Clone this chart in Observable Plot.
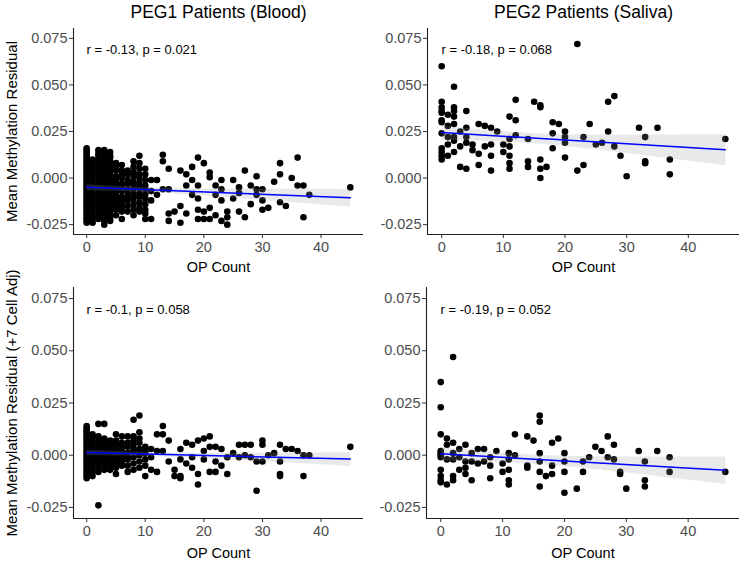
<!DOCTYPE html>
<html><head><meta charset="utf-8">
<script src="https://cdn.jsdelivr.net/npm/d3@7"></script>
<script src="https://cdn.jsdelivr.net/npm/@observablehq/plot@0.6"></script>
<style>
body{margin:0;background:#fff;}
#chart{position:relative;width:744px;height:561px;overflow:hidden;background:#fff;}
.panel{position:absolute;}
</style></head><body><div id="chart"></div>
<script>
// ---------- data (OP count, [residual values]) ----------
const peg1Blood = [
  [0, [0.016, 0.015, 0.014, 0.013, 0.012, 0.011, 0.010, 0.009, 0.008, 0.007, 0.006, 0.005, 0.004, 0.003, 0.002, 0.001, 0.000, -0.001, -0.002, -0.003, -0.004, -0.005, -0.006, -0.007, -0.008, -0.009, -0.010, -0.011, -0.012, -0.013, -0.014, -0.015, -0.016, -0.017, -0.018, -0.019, -0.020, -0.021, -0.022, -0.023, -0.024]],
  [1, [0.010, 0.008, 0.007, 0.005, 0.003, 0.002, 0.000, -0.002, -0.003, -0.005, -0.006, -0.008, -0.010, -0.011, -0.013, -0.015, -0.016, -0.018, -0.020, -0.021, -0.023, -0.024]],
  [2, [0.015, 0.013, 0.012, 0.010, 0.009, 0.007, 0.006, 0.004, 0.002, 0.001, -0.001, -0.003, -0.004, -0.006, -0.008, -0.009, -0.011, -0.013, -0.014, -0.016, -0.017, -0.019, -0.021, -0.022]],
  [3, [0.015, 0.014, 0.012, 0.010, 0.009, 0.007, 0.005, 0.004, 0.002, 0.000, -0.001, -0.003, -0.005, -0.006, -0.008, -0.010, -0.011, -0.013, -0.015, -0.016, -0.018, -0.020, -0.021, -0.023, -0.025]],
  [4, [0.014, 0.012, 0.011, 0.009, 0.007, 0.005, 0.004, 0.002, 0.000, -0.001, -0.003, -0.005, -0.006, -0.008, -0.010, -0.012, -0.013, -0.015, -0.017, -0.018, -0.020, -0.022, -0.023]],
  [5, [0.008, 0.006, 0.004, 0.001, -0.001, -0.003, -0.005, -0.007, -0.009, -0.011, -0.013, -0.015, -0.017, -0.020]],
  [6, [0.007, 0.004, 0.002, 0.000, -0.003, -0.005, -0.007, -0.010, -0.012, -0.014, -0.016, -0.018, -0.022]],
  [7, [0.004, 0.002, -0.001, -0.003, -0.006, -0.008, -0.010, -0.012, -0.015, -0.018]],
  [8, [0.009, 0.006, 0.003, 0.001, -0.002, -0.004, -0.006, -0.009, -0.011, -0.014, -0.017, -0.020]],
  [9, [0.012, 0.008, 0.005, 0.002, 0.000, -0.003, -0.005, -0.008, -0.010, -0.013, -0.016, -0.018]],
  [10, [0.005, 0.002, -0.001, -0.004, -0.006, -0.009, -0.011, -0.014, -0.017, -0.019, -0.022]],
  [11, [-0.001, -0.007, -0.012, -0.022]],
  [12, [-0.001, -0.009]],
  [13, [0.0125, 0.009, -0.006]],
  [14, [0.005, -0.006, -0.019, -0.023]],
  [15, [-0.018]],
  [16, [0.004, -0.015, -0.024]],
  [17, [0.002, -0.004, -0.019]],
  [18, [0.006, -0.001, -0.009]],
  [19, [0.011, -0.004, -0.011, -0.017, -0.022]],
  [20, [0.008, -0.018, -0.022]],
  [21, [0.003, 0.0005, -0.016, -0.022]],
  [22, [-0.004, -0.009, -0.020]],
  [23, [-0.001, -0.006, -0.012, -0.023]],
  [24, [-0.018, -0.021, -0.025]],
  [25, [-0.001, -0.011]],
  [26, [-0.005, -0.008, -0.018]],
  [27, [0.004, -0.021]],
  [28, [-0.004, -0.014]],
  [29, [0.001, -0.006, -0.009]],
  [30, [-0.006, -0.012, -0.017]],
  [31, [-0.016]],
  [32, [-0.002]],
  [33, [0.008, 0.002, -0.013]],
  [34, [-0.015]],
  [35, [0.000]],
  [36, [0.011, -0.004]],
  [37, [-0.004, -0.021]],
  [38, [-0.009]],
  [45, [-0.005]]
];
const peg2Saliva = [
  [0, [0.060, 0.041, 0.038, 0.036, 0.035, 0.031, 0.030, 0.024, 0.016, 0.014, 0.012, 0.010]],
  [1, [0.034, 0.028, 0.022, 0.018, 0.012]],
  [2, [0.049, 0.038, 0.036, 0.033, 0.029, 0.022, 0.020, 0.014]],
  [3, [0.025, 0.017, 0.006]],
  [4, [0.036, 0.027, 0.022, 0.019, 0.005]],
  [5, [0.018, 0.015]],
  [6, [0.029, 0.013, 0.007]],
  [7, [0.028, 0.017]],
  [8, [0.027, 0.018, 0.012, 0.004]],
  [9, [0.025]],
  [10, [0.018, 0.014]],
  [11, [0.033, 0.021, 0.017, 0.012, 0.008, 0.005]],
  [12, [0.042, 0.031, 0.023]],
  [14, [0.021, 0.009, 0.006]],
  [15, [0.041]],
  [16, [0.039, 0.038, 0.010, 0.005, 0.000]],
  [17, [0.006]],
  [18, [0.030, 0.024, 0.016]],
  [19, [0.029]],
  [20, [0.025, 0.022, 0.019, 0.011]],
  [22, [0.072, 0.004]],
  [23, [0.022, 0.007]],
  [24, [0.029]],
  [25, [0.018]],
  [26, [0.019]],
  [27, [0.041, 0.025]],
  [28, [0.044, 0.017]],
  [29, [0.012]],
  [30, [0.001]],
  [32, [0.027]],
  [33, [0.022, 0.009, 0.008]],
  [35, [0.027]],
  [37, [0.010, 0.002]],
  [46, [0.021]]
];
const peg1BloodAdj = [
  [0, [0.014, 0.013, 0.012, 0.011, 0.010, 0.009, 0.008, 0.007, 0.006, 0.005, 0.004, 0.003, 0.002, 0.001, 0.000, -0.001, -0.002, -0.003, -0.004, -0.005, -0.006, -0.007, -0.008, -0.009, -0.010, -0.011]],
  [1, [0.010, 0.009, 0.007, 0.006, 0.004, 0.003, 0.002, 0.001, 0.000, -0.001, -0.002, -0.004, -0.005, -0.007, -0.008, -0.010]],
  [2, [0.015, 0.009, 0.008, 0.006, 0.005, 0.004, 0.002, 0.001, 0.000, -0.002, -0.003, -0.004, -0.006, -0.008, -0.024]],
  [3, [0.015, 0.008, 0.007, 0.005, 0.004, 0.003, 0.001, 0.000, -0.001, -0.003, -0.004, -0.005, -0.007]],
  [4, [0.007, 0.006, 0.005, 0.003, 0.002, 0.001, -0.001, -0.002, -0.003, -0.005, -0.007]],
  [5, [0.010, 0.007, 0.005, 0.003, 0.001, 0.000, -0.002, -0.004, -0.006, -0.009]],
  [6, [0.009, 0.006, 0.004, 0.002, 0.000, -0.001, -0.003, -0.005]],
  [7, [0.009, 0.006, 0.004, 0.001, -0.001, -0.002, -0.005, -0.008]],
  [8, [0.017, 0.009, 0.007, 0.005, 0.003, 0.002, -0.001, -0.004, -0.007]],
  [9, [0.019, 0.011, 0.008, 0.006, 0.003, 0.001, 0.000, -0.003, -0.006]],
  [10, [0.004, 0.002, 0.001, -0.002, -0.005, -0.010]],
  [11, [0.003, -0.001, -0.007]],
  [12, [0.010, 0.002, -0.008]],
  [13, [0.014, 0.010, 0.002]],
  [14, [0.007, -0.003]],
  [15, [-0.007, -0.010]],
  [16, [0.003, -0.002, -0.010, -0.011]],
  [17, [0.006, -0.004]],
  [18, [0.005, -0.001, -0.006]],
  [19, [0.007, -0.009, -0.014]],
  [20, [0.008, 0.002, -0.002]],
  [21, [0.009, 0.004, -0.008]],
  [22, [0.004, -0.003, -0.008]],
  [23, [0.003, -0.005]],
  [24, [-0.001, -0.009]],
  [25, [0.001]],
  [26, [0.005, -0.001]],
  [27, [0.005, 0.000]],
  [28, [0.005, -0.001]],
  [29, [-0.003, -0.017]],
  [30, [0.007, 0.005, -0.003]],
  [31, [0.000]],
  [32, [0.001]],
  [33, [0.005, -0.003, -0.009, -0.010]],
  [34, [0.003]],
  [35, [0.003]],
  [36, [0.002]],
  [37, [0.000, -0.010]],
  [38, [0.000]],
  [45, [0.004]]
];
const peg2SalivaAdj = [
  [0, [0.035, 0.023, 0.010, 0.002, 0.001, 0.000, -0.001, -0.007, -0.010, -0.012, -0.013]],
  [1, [0.008, 0.005, -0.002, -0.014]],
  [2, [0.047, 0.006, 0.001, -0.002, -0.010, -0.012]],
  [3, [0.003, -0.001, -0.007]],
  [4, [0.005, -0.003, -0.006, -0.009]],
  [5, [0.001, -0.003, -0.012]],
  [6, [0.003, -0.004]],
  [7, [0.003, -0.003]],
  [8, [-0.001, -0.005, -0.011]],
  [9, [0.002]],
  [10, [-0.004, -0.008]],
  [11, [0.001, -0.002, -0.007, -0.012, -0.014]],
  [12, [0.010, 0.000]],
  [14, [0.009, -0.005, -0.006]],
  [15, [0.007]],
  [16, [0.019, 0.016, 0.001, -0.003, -0.008, -0.015]],
  [17, [-0.010]],
  [18, [0.006, -0.005, -0.009]],
  [19, [0.008]],
  [20, [0.001, -0.003, -0.008, -0.018]],
  [22, [-0.016]],
  [23, [-0.003, -0.008]],
  [24, [-0.001]],
  [25, [0.004]],
  [26, [0.002]],
  [27, [0.009, -0.001]],
  [28, [0.005, -0.002]],
  [29, [-0.008, -0.009]],
  [30, [-0.016]],
  [32, [0.002]],
  [33, [-0.003, -0.012, -0.015]],
  [35, [0.002]],
  [37, [-0.001, -0.008]],
  [46, [-0.008]]
];
const panelTitles = ["PEG1 Patients (Blood)", "PEG2 Patients (Saliva)"];
const yTitles = ["Mean Methylation Residual", "Mean Methylation Residual (+7 Cell Adj)"];
const xTitle = "OP Count";
const corLabels = ["r = -0.13, p = 0.021", "r = -0.18, p = 0.068", "r = -0.1, p = 0.058", "r = -0.19, p = 0.052"];
const yTicks = [-0.025, 0, 0.025, 0.05, 0.075];
const xTicks = [0, 10, 20, 30, 40];

// ---------- drawing ----------
const FONT = '"Liberation Sans", Arial, Helvetica, sans-serif';
const yDomain = [-0.0303, 0.0803];
const fmt = d => d.toFixed(3);
const chart = document.getElementById("chart");

function makePanel(cfg) {
  const data = cfg.cols.flatMap(([x, ys]) => ys.map(y => ({x, y})));
  const marks = [
    Plot.dot(data, {x: "x", y: "y", r: 3.3, fill: "#000", stroke: "none"}),
    Plot.linearRegressionY(data, {x: "x", y: "y", stroke: "#0000ff", strokeWidth: 1.5, fill: "#999999", fillOpacity: 0.22}),
    Plot.axisX({ticks: xTicks, tickSize: 4, tickPadding: 3, color: "#4d4d4d", stroke: "#333", label: null, fontSize: 14.5}),
    Plot.axisY({ticks: yTicks, tickSize: 4, tickPadding: 2, tickFormat: fmt, color: "#4d4d4d", stroke: "#333", label: null, fontSize: 14.5}),
    Plot.ruleX([cfg.xDomain[0]], {stroke: "#222", strokeWidth: 1.1}),
    Plot.ruleY([yDomain[0]], {stroke: "#222", strokeWidth: 1.1}),
    Plot.text([cfg.cor], {frameAnchor: "top-left", dx: cfg.corDx, dy: cfg.corDy, text: d => d, textAnchor: "start", lineAnchor: "middle", fontSize: 13, fill: "#000"}),
    Plot.text([xTitle], {frameAnchor: "bottom", dy: cfg.xTitleDy, text: d => d, lineAnchor: "middle", fontSize: 14.5, fill: "#000"})
  ];
  if (cfg.title) marks.push(Plot.text([cfg.title], {frameAnchor: "top", dy: -16, text: d => d, lineAnchor: "middle", fontSize: 17.5, fill: "#000"}));
  if (cfg.yTitle) marks.push(Plot.text([cfg.yTitle], {frameAnchor: "left", dx: -61, text: d => d, rotate: -90, textAnchor: "middle", lineAnchor: "middle", fontSize: 15, fill: "#000"}));
  const svg = Plot.plot({
    width: cfg.width, height: cfg.height,
    marginLeft: cfg.mL, marginRight: cfg.mR, marginTop: cfg.mT, marginBottom: cfg.mB,
    style: {fontFamily: FONT, fontSize: "14.5px", background: "#fff", overflow: "visible"},
    x: {domain: cfg.xDomain},
    y: {domain: yDomain},
    marks
  });
  const div = document.createElement("div");
  div.className = "panel";
  div.style.left = cfg.left + "px";
  div.style.top = cfg.top + "px";
  div.appendChild(svg);
  chart.appendChild(div);
}

makePanel({cols: peg1Blood, left: 0, top: 0, width: 372, height: 280, mL: 73, mR: 9, mT: 28, mB: 46,
  xDomain: [-2.25, 47.25], title: panelTitles[0], yTitle: yTitles[0], cor: corLabels[0], corDx: 13, corDy: 21, xTitleDy: 33});
makePanel({cols: peg2Saliva, left: 372, top: 0, width: 372, height: 280, mL: 55, mR: 5, mT: 28, mB: 46,
  xDomain: [-2.3, 48.3], title: panelTitles[1], cor: corLabels[1], corDx: 14, corDy: 21, xTitleDy: 33});
makePanel({cols: peg1BloodAdj, left: 0, top: 280, width: 372, height: 281, mL: 73, mR: 9, mT: 7, mB: 43,
  xDomain: [-2.25, 47.25], yTitle: yTitles[1], cor: corLabels[2], corDx: 13, corDy: 22, xTitleDy: 35});
makePanel({cols: peg2SalivaAdj, left: 372, top: 280, width: 372, height: 281, mL: 54, mR: 5, mT: 7, mB: 43,
  xDomain: [-2.3, 48.3], cor: corLabels[3], corDx: 14, corDy: 22, xTitleDy: 35});
</script></body></html>
